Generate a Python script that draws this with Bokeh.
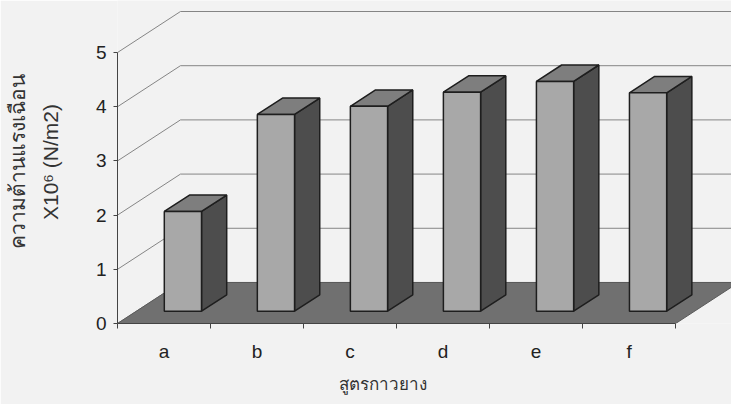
from bokeh.plotting import figure
from bokeh.models import FixedTicker, Range1d, Title
from bokeh.embed import file_html
from bokeh.resources import INLINE

# Shear strength of each rubber-adhesive formula (x10^6 N/m2)
categories = ["a", "b", "c", "d", "e", "f"]
strength = [1.84, 3.63, 3.78, 4.04, 4.24, 4.03]
y_ticks = [0, 1, 2, 3, 4, 5]

# oblique 3-D projection: a full step in depth shifts a point by (DX, DY)
DX, DY = 0.677, 0.757
F_FRONT, F_BACK = 0.3, 0.7      # depth of the bar faces
HALF = 0.2                      # half bar width (category units)

FONT = "Liberation Sans, Arial, sans-serif"
BG = "#f2f2f2"

n = len(categories)
p = figure(width=731, height=404, x_range=Range1d(0, 6.60), y_range=Range1d(0, 5.96),
           output_backend="svg", toolbar_location=None,
           min_border_left=117, min_border_right=0, min_border_top=0, min_border_bottom=81)
p.background_fill_color = BG
p.border_fill_color = BG
p.outline_line_color = None
p.xgrid.visible = False
p.ygrid.visible = False

# wall gridlines: along the side wall, then across the back wall
grid_xs, grid_ys = [], []
for v in y_ticks:
    grid_xs.append([0, DX, n + DX + 0.2])
    grid_ys.append([v, v + DY, v + DY])
p.multi_line(grid_xs, grid_ys, line_color="#858585", line_width=1)

# floor
p.patch([0, n, n + DX, DX], [0, 0, DY, DY], fill_color="#707070",
        line_color="#5a5a5a", line_width=1)

# bars
for i, v in enumerate(strength):
    c = i + 0.5
    l0 = c - HALF + F_FRONT * DX
    r0 = c + HALF + F_FRONT * DX
    l1 = c - HALF + F_BACK * DX
    r1 = c + HALF + F_BACK * DX
    b0 = F_FRONT * DY
    b1 = F_BACK * DY
    # side face
    p.patch([r0, r1, r1, r0], [b0, b1, v + b1, v + b0], fill_color="#4d4d4d",
            line_color="#1e1e1e", line_width=1.5)
    # top face
    p.patch([l0, r0, r1, l1], [v + b0, v + b0, v + b1, v + b1], fill_color="#7e7e7e",
            line_color="#1e1e1e", line_width=1.5)
    # front face
    p.quad(left=l0, right=r0, bottom=b0, top=v + b0, fill_color="#a8a8a8",
           line_color="#1e1e1e", line_width=1.5)

# value axis
ya = p.yaxis[0]
ya.ticker = FixedTicker(ticks=y_ticks, minor_ticks=[])
ya.bounds = (0, 5)
ya.axis_line_color = "#444444"
ya.major_tick_line_color = "#444444"
ya.major_tick_out = 4
ya.major_tick_in = 0
ya.minor_tick_out = 0
ya.major_label_text_font = FONT
ya.major_label_text_font_size = "19px"
ya.major_label_text_color = "#222222"
ya.major_label_standoff = 7
ya.axis_label = "ความต้านแรงเฉือน\nX10⁶ (N/m2)"
ya.axis_label_text_font = FONT
ya.axis_label_text_font_size = "21px"
ya.axis_label_text_line_height = 1.45
ya.axis_label_text_font_style = "normal"
ya.axis_label_text_color = "#333333"
ya.axis_label_standoff = 31

# category axis: labels at the centres, tick marks between categories
xa = p.xaxis[0]
centers = [i + 0.5 for i in range(n)]
xa.ticker = FixedTicker(ticks=centers, minor_ticks=list(range(0, n + 1)))
xa.major_label_overrides = {c: lab for c, lab in zip(centers, categories)}
xa.bounds = (0, n)
xa.axis_line_color = "#444444"
xa.major_tick_out = 0
xa.major_tick_in = 0
xa.minor_tick_line_color = "#444444"
xa.minor_tick_out = 5
xa.minor_tick_in = 0
xa.major_label_text_font = FONT
xa.major_label_text_font_size = "19px"
xa.major_label_text_color = "#222222"
xa.major_label_standoff = 12

p.add_layout(Title(text="สูตรกาวยาง", align="left", offset=221, standoff=16,
                   text_font=FONT, text_font_size="17px", text_font_style="normal",
                   text_color="#333333"), "below")

open("out.html", "w").write(file_html(p, INLINE))
